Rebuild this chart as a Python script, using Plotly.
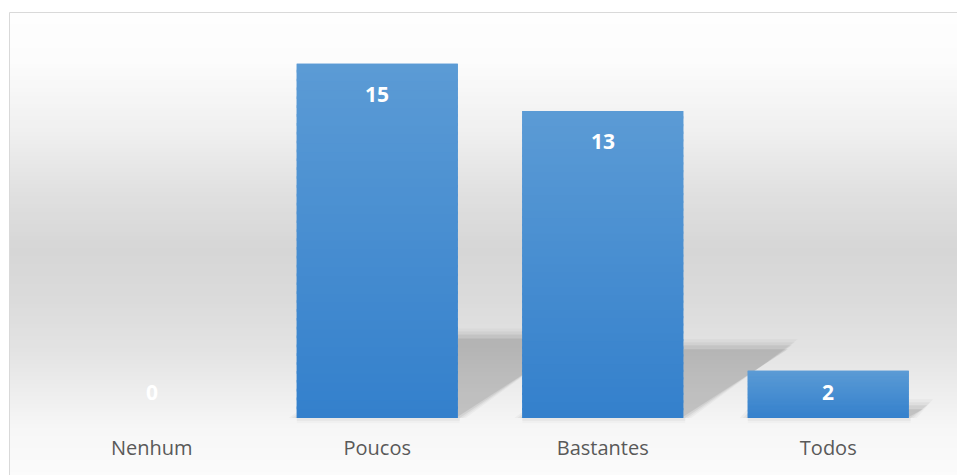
import plotly.graph_objects as go

# ---- data ----
categories = ["Nenhum", "Poucos", "Bastantes", "Todos"]
values = [0, 15, 13, 2]
y_max = 16

# ---- geometry / style ----
W, H = 957, 475
L, R, T, B = 39, 16, 40, 57
plot_w = W - L - R
plot_h = H - T - B
bargap = 0.286
bar_w = 1 - bargap
px_per_unit = plot_h / y_max
px_per_cat = plot_w / len(categories)


def px(x):
    return (x - L) / plot_w


def py(y):
    return (H - B - y) / plot_h


def lerp(a, b, t):
    return a + (b - a) * t


def gray_at(y, stops):
    for (y0, g0), (y1, g1) in zip(stops, stops[1:]):
        if y0 <= y <= y1:
            t = (y - y0) / (y1 - y0)
            return lerp(g0, g1, t)
    return stops[-1][1]


shapes = []

# chart-area background gradient (white -> grey -> white)
bg_stops = [(12, 254), (60, 252), (130, 240), (200, 223), (250, 214), (300, 219),
            (345, 226), (395, 238), (430, 247), (480, 251)]
N_BG = 117
top_px, bot_px = 12, 480
for k in range(N_BG):
    y0 = top_px + (bot_px - top_px) * k / N_BG
    y1 = top_px + (bot_px - top_px) * (k + 1) / N_BG
    g = int(round(gray_at((y0 + y1) / 2, bg_stops)))
    shapes.append(dict(type="rect", xref="paper", yref="paper", layer="below",
                       x0=px(9), x1=px(962), y0=py(y1 + 0.5), y1=py(y0),
                       fillcolor=f"rgb({g},{g},{g})", line=dict(width=0)))

# chart border
shapes.append(dict(type="rect", xref="paper", yref="paper", layer="below",
                   x0=px(9.5), x1=px(965), y0=py(485), y1=py(12.5),
                   fillcolor="rgba(0,0,0,0)", line=dict(color="#d9d9d9", width=1)))

# soft shadow just beneath each bar
for i, v in enumerate(values):
    if v <= 0:
        continue
    for grow, op in [(5, 0.02), (3, 0.03)]:
        shapes.append(dict(type="rect", xref="x", yref="paper", layer="below",
                           x0=i - bar_w / 2, x1=i + bar_w / 2 + 2 / px_per_cat,
                           y0=py(418 + grow), y1=py(418),
                           fillcolor=f"rgba(0,0,0,{op})", line=dict(width=0)))

# bar shadows (sheared onto the floor), faked blur with halos
dx_per_unit = 8.2 / px_per_cat
dy_per_unit = 0.23
for i, v in enumerate(values):
    if v <= 0:
        continue
    x0, x1 = i - bar_w / 2, i + bar_w / 2
    dx, dy = dx_per_unit * v, dy_per_unit * v
    for grow, op in [(8, 0.03), (5, 0.04), (2, 0.06), (-2, 0.08)]:
        gx = grow / px_per_cat
        gy = grow / px_per_unit
        path = (f"M{x0 - gx},0 L{x1 + gx},0 L{x1 + dx + gx},{dy + gy} "
                f"L{x0 + dx - gx},{dy + gy} Z")
        shapes.append(dict(type="path", xref="x", yref="y", layer="below", path=path,
                           fillcolor=f"rgba(0,0,0,{op})", line=dict(width=0)))

# bar gradient overlay (top light blue -> bottom deeper blue)
top_c = (91, 155, 213)
bot_c = (52, 128, 204)
N_BAR = 40
for i, v in enumerate(values):
    if v <= 0:
        continue
    for k in range(N_BAR):
        y0 = v * k / N_BAR
        y1 = v * (k + 1) / N_BAR
        t = (k + 0.5) / N_BAR
        c = tuple(int(round(lerp(b, a, t))) for a, b in zip(top_c, bot_c))
        shapes.append(dict(type="rect", xref="x", yref="y", layer="above",
                           x0=i - bar_w / 2, x1=i + bar_w / 2,
                           y0=y0, y1=min(v, y1 + v * 0.3 / N_BAR),
                           fillcolor=f"rgb{c}", line=dict(width=0)))

fig = go.Figure()
fig.add_trace(go.Bar(
    x=list(range(len(categories))),
    y=values,
    marker=dict(color="#4a8fd2", line=dict(width=0)),
    hoverinfo="skip",
    showlegend=False,
))

annotations = []
for i, v in enumerate(values):
    annotations.append(dict(
        x=i, y=max(v - 1.27, 1.10), xref="x", yref="y",
        text=f"<b>{v}</b>", showarrow=False, yanchor="middle",
        font=dict(family="Open Sans", size=21, color="#ffffff"),
    ))

fig.update_layout(
    width=W, height=H,
    margin=dict(l=L, r=R, t=T, b=B, pad=0),
    paper_bgcolor="#ffffff",
    plot_bgcolor="rgba(0,0,0,0)",
    bargap=bargap,
    shapes=shapes,
    annotations=annotations,
    xaxis=dict(
        range=[-0.5, len(categories) - 0.5],
        tickvals=list(range(len(categories))),
        ticktext=categories,
        showgrid=False, zeroline=False, showline=False, ticks="",
        tickfont=dict(family="Open Sans", size=20, color="#595959"),
        ticklabelstandoff=16,
    ),
    yaxis=dict(range=[0, y_max], visible=False, showgrid=False, zeroline=False),
)

fig.write_html(
    "out.html",
    config={"displayModeBar": False},
    post_script="document.body.style.margin='0';document.body.style.overflow='hidden';",
)
